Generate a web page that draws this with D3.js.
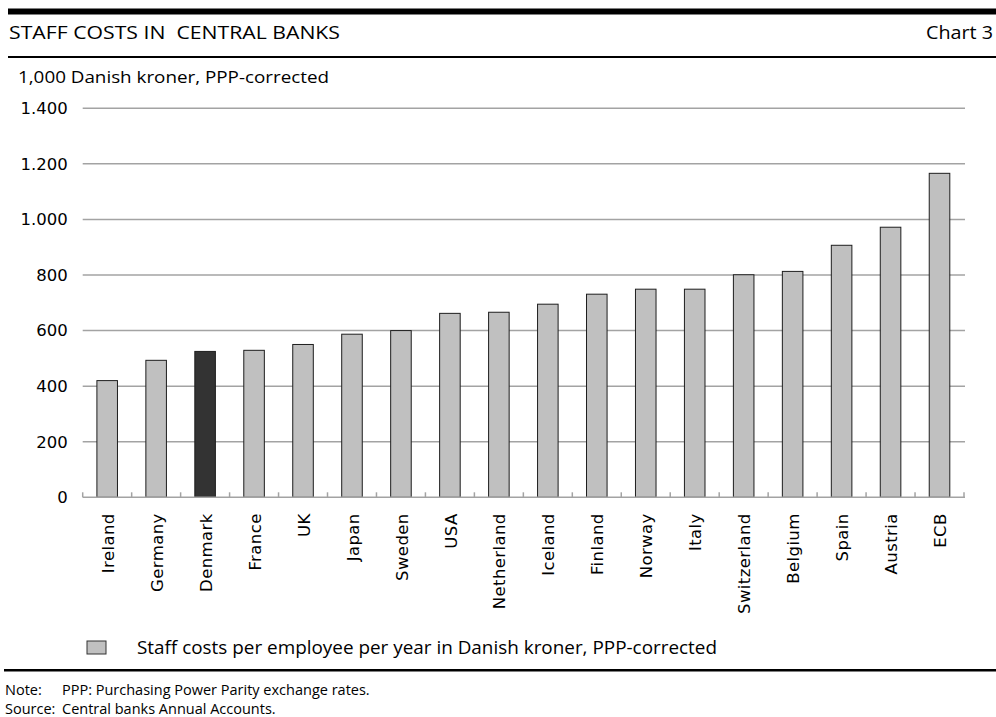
<!DOCTYPE html>
<html>
<head>
<meta charset="utf-8">
<script src="https://cdn.jsdelivr.net/npm/d3@7"></script>
<style>
    body { margin: 0; background: #fff; }
    svg { display: block; }
    text { fill: #000; }
</style>
</head>
<body>
<div id="chart"></div>
<script>
// Staff costs per employee per year, 1,000 DKK, PPP-corrected
const countries = ['Ireland', 'Germany', 'Denmark', 'France', 'UK', 'Japan', 'Sweden', 'USA',
    'Netherland', 'Iceland', 'Finland', 'Norway', 'Italy', 'Switzerland', 'Belgium', 'Spain',
    'Austria', 'ECB'];
const staffCosts = [420, 493, 525, 529, 550, 587, 600, 662, 666, 695, 731, 749, 749, 801, 813,
    907, 972, 1166];
const yTicks = [0, 200, 400, 600, 800, 1000, 1200, 1400];
const highlight = 'Denmark';

const W = 996, H = 717;
const headFont = '"Open Sans", "Noto Sans", sans-serif';
const axisFont = '"DejaVu Sans", Verdana, sans-serif';

const svg = d3.select('#chart').append('svg')
    .attr('width', W)
    .attr('height', H);

// Header rules and titles
svg.append('rect').attr('x', 8).attr('y', 8.5).attr('width', W - 8).attr('height', 6).attr('fill', '#000');
svg.append('rect').attr('x', 8).attr('y', 56).attr('width', W - 8).attr('height', 2).attr('fill', '#000');

svg.append('text')
    .attr('x', 9).attr('y', 39)
    .attr('font-family', headFont).attr('font-size', 17.5)
    .attr('textLength', 331).attr('lengthAdjust', 'spacingAndGlyphs')
    .style('white-space', 'pre')
    .text('STAFF COSTS IN  CENTRAL BANKS');

svg.append('text')
    .attr('x', 926).attr('y', 39)
    .attr('font-family', headFont).attr('font-size', 17.5)
    .attr('textLength', 67).attr('lengthAdjust', 'spacingAndGlyphs')
    .text('Chart 3');

svg.append('text')
    .attr('x', 18).attr('y', 83)
    .attr('font-family', headFont).attr('font-size', 16)
    .attr('textLength', 311).attr('lengthAdjust', 'spacingAndGlyphs')
    .text('1,000 Danish kroner, PPP-corrected');

// Scales
const x = d3.scaleBand()
    .domain(countries)
    .range([82.7, 964])
    .paddingInner(0.58)
    .paddingOuter(0.29);

const y = d3.scaleLinear()
    .domain([0, 1400])
    .range([497.3, 108.3]);

const g = svg.append('g');

// Gridlines
g.selectAll('.grid')
    .data(yTicks.filter(d => d > 0))
    .enter()
    .append('line')
    .attr('x1', 82.7).attr('x2', 965)
    .attr('y1', d => y(d)).attr('y2', d => y(d))
    .attr('stroke', '#a3a3a3')
    .attr('stroke-width', 1.5);

// Y axis labels
const yAxis = g.append('g')
    .attr('transform', 'translate(82.7,0)')
    .call(d3.axisLeft(y).tickValues(yTicks).tickSize(0).tickPadding(15)
        .tickFormat(d => d3.format(',')(d).replace(',', '.')));
yAxis.select('.domain').remove();
yAxis.selectAll('text')
    .attr('font-family', axisFont)
    .attr('font-size', 16.5)
    .attr('fill', '#000');

// Bars
g.selectAll('.bar')
    .data(countries)
    .enter()
    .append('rect')
    .attr('class', 'bar')
    .attr('x', d => x(d))
    .attr('y', (d, i) => y(staffCosts[i]))
    .attr('width', x.bandwidth())
    .attr('height', (d, i) => y(0) - y(staffCosts[i]))
    .attr('fill', d => d === highlight ? '#333333' : '#c0c0c0')
    .attr('stroke', '#1e1e1e')
    .attr('stroke-width', 1);

// X axis line with inside ticks at category boundaries
const step = x.step();
const bounds = countries.map(d => x(d) - (step - x.bandwidth()) / 2).concat([x.range()[1]]);

g.append('line')
    .attr('x1', 82.7).attr('x2', 965)
    .attr('y1', y(0)).attr('y2', y(0))
    .attr('stroke', '#a3a3a3')
    .attr('stroke-width', 1.5);

g.selectAll('.tick-mark')
    .data(bounds)
    .enter()
    .append('line')
    .attr('x1', d => d).attr('x2', d => d)
    .attr('y1', y(0)).attr('y2', y(0) - 5)
    .attr('stroke', '#a3a3a3')
    .attr('stroke-width', 1.5);

// Category labels, rotated
g.selectAll('.xlabel')
    .data(countries)
    .enter()
    .append('text')
    .attr('transform', d => `translate(${x(d) + x.bandwidth() / 2},${y(0) + 16}) rotate(-90)`)
    .attr('dy', '0.4em')
    .attr('text-anchor', 'end')
    .attr('font-family', axisFont)
    .attr('font-size', 16.5)
    .attr('letter-spacing', 0.4)
    .text(d => d);

// Legend
svg.append('rect')
    .attr('x', 87).attr('y', 641)
    .attr('width', 19).attr('height', 13)
    .attr('fill', '#c0c0c0')
    .attr('stroke', '#333')
    .attr('stroke-width', 1);

svg.append('text')
    .attr('x', 137).attr('y', 653.5)
    .attr('font-family', headFont).attr('font-size', 17.5)
    .attr('textLength', 580).attr('lengthAdjust', 'spacingAndGlyphs')
    .text('Staff costs per employee per year in Danish kroner, PPP-corrected');

// Footer
svg.append('rect').attr('x', 4).attr('y', 669).attr('width', W - 4).attr('height', 2.5).attr('fill', '#000');

const notes = [
    ['Note:', 'PPP: Purchasing Power Parity exchange rates.'],
    ['Source:', 'Central banks Annual Accounts.']
];
notes.forEach((n, i) => {
    svg.append('text')
        .attr('x', 5).attr('y', 694.5 + i * 19.5)
        .attr('font-family', headFont).attr('font-size', 14.5)
        .text(n[0]);
    svg.append('text')
        .attr('x', 62).attr('y', 694.5 + i * 19.5)
        .attr('font-family', headFont).attr('font-size', 14.5)
        .text(n[1]);
});
</script>
</body>
</html>
